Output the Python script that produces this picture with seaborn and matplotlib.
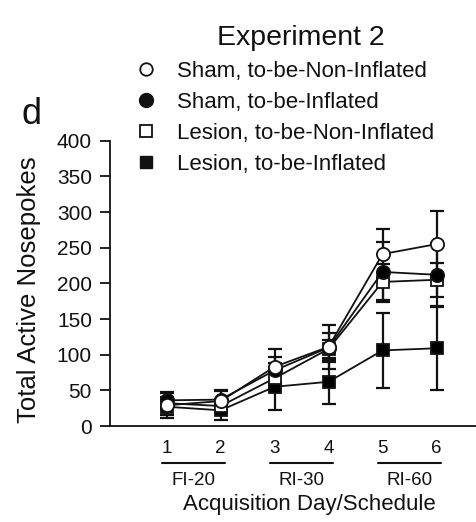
import matplotlib
matplotlib.use("Agg")
import matplotlib.pyplot as plt
from matplotlib.lines import Line2D
from matplotlib.transforms import blended_transform_factory
import seaborn as sns
import pandas as pd

# Acquisition data (mean ± SEM) per group
days = [1, 2, 3, 4, 5, 6]
sham_noninfl = [29, 35, 83, 111, 241, 255]
sham_noninfl_sem = [18, 15, 25, 31, 35, 47]
sham_infl = [36, 37, 78, 110, 216, 212]
sham_infl_sem = [10, 12, 19, 20, 42, 44]
lesion_noninfl = [32, 28, 67, 108, 202, 205]
lesion_noninfl_sem = [8, 10, 15, 13, 25, 24]
lesion_infl = [27, 22, 55, 62, 106, 109]
lesion_infl_sem = [12, 14, 33, 31, 53, 58]

labels = ["Sham, to-be-Non-Inflated", "Sham, to-be-Inflated",
          "Lesion, to-be-Non-Inflated", "Lesion, to-be-Inflated"]
schedules = ["FI-20", "RI-30", "RI-60"]
yticks = [0, 50, 100, 150, 200, 250, 300, 350, 400]

sns.set_style("ticks")
plt.rcParams["font.family"] = ["Liberation Sans", "DejaVu Sans"]
plt.rcParams.update({"text.color": "#111111", "axes.labelcolor": "#111111",
                     "xtick.color": "#111111", "ytick.color": "#111111"})

fig = plt.figure(figsize=(4.77, 5.22), dpi=100)
ax = fig.add_axes([0.2306, 0.1839, 0.7694, 0.5466])

series = [
    (lesion_infl, lesion_infl_sem, "s", "black"),
    (lesion_noninfl, lesion_noninfl_sem, "s", "white"),
    (sham_infl, sham_infl_sem, "o", "black"),
    (sham_noninfl, sham_noninfl_sem, "o", "white"),
]

# error bars underneath everything
for vals, sem, mk, fc in series:
    ax.errorbar(days, vals, yerr=sem, fmt="none", ecolor="#111111",
                elinewidth=1.6, capsize=5, capthick=1.6, zorder=1)

for z, (vals, sem, mk, fc) in enumerate(series):
    df = pd.DataFrame({"day": days, "value": vals})
    sns.lineplot(data=df, x="day", y="value", ax=ax, color="#111111",
                 linewidth=1.3, marker=mk, markersize=9.5 if mk == "o" else 9,
                 markerfacecolor=fc, markeredgecolor="#111111",
                 markeredgewidth=1.3, zorder=3 + z)

ax.set_xlim(-0.05, 6.75)
ax.set_ylim(0, 400)
ax.set_yticks(yticks)
ax.set_yticklabels([str(t) for t in yticks], fontsize=15)
ax.set_xticks(days)
ax.set_xticklabels([str(d) for d in days], fontsize=13.5)
ax.tick_params(axis="x", length=0, pad=10)
ax.tick_params(axis="y", length=7, width=1.3, pad=6, direction="out")
for s in ["top", "right"]:
    ax.spines[s].set_visible(False)
for s in ["left", "bottom"]:
    ax.spines[s].set_linewidth(1.3)
    ax.spines[s].set_color("#111111")
ax.set_xlabel("")
ax.set_ylabel("Total Active Nosepokes", fontsize=18.5)
ax.yaxis.set_label_coords(-0.189, 0.477)

# schedule brackets under each pair of days
trans = blended_transform_factory(ax.transData, ax.transAxes)
for i, name in enumerate(schedules):
    d0 = days[2 * i]
    ax.plot([d0 - 0.08, d0 + 1.09], [-0.13, -0.13], transform=trans,
            color="#111111", lw=1.5, clip_on=False)
    ax.text(d0 + 0.5, -0.16, name, transform=trans, ha="center", va="top",
            fontsize=13.5)
ax.text(3.65, -0.24, "Acquisition Day/Schedule", transform=trans,
        ha="center", va="top", fontsize=16)

# legend
handles = [
    Line2D([], [], ls="none", marker="o", markersize=9, mfc="white", mec="#111111", mew=1.3),
    Line2D([], [], ls="none", marker="o", markersize=10, mfc="#111111", mec="#111111"),
    Line2D([], [], ls="none", marker="s", markersize=8.5, mfc="white", mec="#111111", mew=1.3),
    Line2D([], [], ls="none", marker="s", markersize=9, mfc="#111111", mec="#111111"),
]
fig.legend(handles, labels, loc="upper left", bbox_to_anchor=(0.26, 0.905),
           frameon=False, fontsize=16, handlelength=1.0, handletextpad=0.9,
           labelspacing=0.45, borderpad=0)

fig.text(0.63, 0.927, "Experiment 2", ha="center", va="center", fontsize=20.5)
fig.text(0.067, 0.78, "d", ha="center", va="center", fontsize=26)

fig.savefig("out.png", dpi=100)
